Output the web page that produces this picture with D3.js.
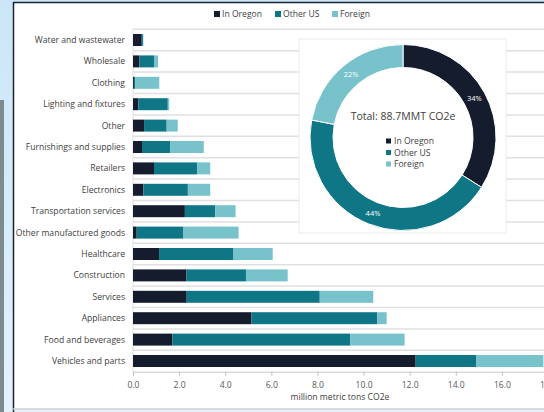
<!DOCTYPE html>
<meta charset="utf-8" />
<script src="https://d3js.org/d3.v7.min.js"></script>
<style>
  body { margin: 0; background: #fff; }
  svg { display: block; font-family: "Open Sans", sans-serif; }
</style>
<div id="my_dataviz"></div>
<script>
  // categories top to bottom
  const categories = [
    "Water and wastewater", "Wholesale", "Clothing", "Lighting and fixtures",
    "Other", "Furnishings and supplies", "Retailers", "Electronics",
    "Transportation services", "Other manufactured goods", "Healthcare",
    "Construction", "Services", "Appliances", "Food and beverages", "Vehicles and parts"
  ];
  const inOregon = [0.38, 0.28, 0.04, 0.23, 0.48, 0.39, 0.91, 0.45, 2.25, 0.16, 1.13, 2.32, 2.33, 5.14, 1.71, 12.26];
  const otherUS  = [0.05, 0.63, 0.05, 1.28, 0.98, 1.22, 1.87, 1.93, 1.32, 2.03, 3.23, 2.58, 5.77, 5.45, 7.72, 2.62];
  const foreign  = [0.02, 0.18, 1.05, 0.06, 0.48, 1.46, 0.57, 0.97, 0.88, 2.39, 1.70, 1.81, 2.32, 0.41, 2.35, 2.92];
  const seriesNames = ["In Oregon", "Other US", "Foreign"];
  const xTicks = [0, 2, 4, 6, 8, 10, 12, 14, 16, 18];
  // donut shares (percent)
  const shareValues = [34, 44, 22];
  const totalLabel = "Total: 88.7MMT CO2e";

  const colors = ["#151c2d", "#0f7686", "#78c2cb"];
  const W = 544, H = 412;

  const svg = d3.select("#my_dataviz").append("svg")
    .attr("width", W).attr("height", H);

  // page background strip on the left
  const grad = svg.append("defs").append("linearGradient")
    .attr("id", "bg").attr("x1", 0).attr("x2", 0).attr("y1", 0).attr("y2", 1);
  grad.append("stop").attr("offset", 0).attr("stop-color", "#cbe6f8");
  grad.append("stop").attr("offset", 1).attr("stop-color", "#e4f2fc");
  svg.append("rect").attr("width", W).attr("height", H).attr("fill", "url(#bg)");
  svg.append("rect").attr("x", 0).attr("y", 100).attr("width", 4).attr("height", H - 100).attr("fill", "#7d8a90");

  // panel
  svg.append("rect").attr("x", 13).attr("y", 2.5).attr("width", W).attr("height", 406)
    .attr("fill", "#fff");
  svg.append("line").attr("x1", 13).attr("x2", W).attr("y1", 2.5).attr("y2", 2.5)
    .attr("stroke", "#1c2333").attr("stroke-width", 1.5);
  svg.append("line").attr("x1", 13.5).attr("x2", 13.5).attr("y1", 2).attr("y2", H)
    .attr("stroke", "#1c2333").attr("stroke-width", 1.5);
  svg.append("line").attr("x1", 13).attr("x2", W).attr("y1", 409).attr("y2", 409)
    .attr("stroke", "#d0d0d0").attr("stroke-width", 1.5);

  // data rows for stacking
  const data = categories.map((c, i) => ({
    cat: c, "In Oregon": inOregon[i], "Other US": otherUS[i], "Foreign": foreign[i]
  }));
  const stacked = d3.stack().keys(seriesNames)(data);

  const x = d3.scaleLinear().domain([0, 18]).range([133, 548]);
  const y = d3.scaleBand().domain(categories).range([29.3, 371.7])
    .paddingInner(0.44).paddingOuter(0.22);
  const step = y.step();

  // horizontal gridlines at category boundaries
  svg.append("g").selectAll("line")
    .data(categories)
    .join("line")
    .attr("x1", x(0)).attr("x2", W)
    .attr("y1", d => y(d) - step * 0.22)
    .attr("y2", d => y(d) - step * 0.22)
    .attr("stroke", "#e0e0e0").attr("stroke-width", 1.5);
  svg.append("line").attr("x1", x(0)).attr("x2", x(0))
    .attr("y1", y.range()[0]).attr("y2", y.range()[1])
    .attr("stroke", "#e0e0e0").attr("stroke-width", 1);

  // bars
  svg.append("g").selectAll("g")
    .data(stacked)
    .join("g")
    .attr("fill", (d, i) => colors[i])
    .selectAll("rect")
    .data(d => d)
    .join("rect")
    .attr("x", d => x(d[0]))
    .attr("y", d => y(d.data.cat))
    .attr("width", d => Math.max(0, x(d[1]) - x(d[0])))
    .attr("height", y.bandwidth());

  // category labels
  svg.append("g").selectAll("text")
    .data(categories)
    .join("text")
    .attr("x", 125)
    .attr("y", d => y(d) + y.bandwidth() / 2)
    .attr("dy", "0.35em")
    .attr("text-anchor", "end")
    .attr("font-size", 8.6)
    .attr("fill", "#404040")
    .text(d => d);

  // x axis
  const xAxis = svg.append("g")
    .attr("transform", `translate(0,${y.range()[1]})`)
    .call(d3.axisBottom(x).tickValues(xTicks).tickFormat(d3.format(".1f")).tickSize(4).tickSizeOuter(0));
  xAxis.select(".domain").attr("stroke", "#d9d9d9").attr("stroke-width", 1.5);
  xAxis.selectAll(".tick line").attr("stroke", "#bfbfbf");
  xAxis.selectAll(".tick text").attr("fill", "#595959").attr("font-size", 8.6)
    .attr("font-family", "Open Sans, sans-serif").attr("dy", "1.1em");

  svg.append("text")
    .attr("x", 340).attr("y", 400)
    .attr("text-anchor", "middle")
    .attr("font-size", 8.6).attr("fill", "#404040")
    .text("million metric tons CO2e");

  // top legend
  const legendX = [214, 275, 332];
  const lg = svg.append("g").selectAll("g")
    .data(seriesNames)
    .join("g")
    .attr("transform", (d, i) => `translate(${legendX[i]},14)`);
  lg.append("rect").attr("x", 0).attr("y", -3).attr("width", 6).attr("height", 6)
    .attr("fill", (d, i) => colors[i]);
  lg.append("text").attr("x", 8).attr("dy", "0.35em")
    .attr("font-size", 8.6).attr("fill", "#404040").text(d => d);

  // donut panel
  svg.append("rect").attr("x", 299).attr("y", 39).attr("width", 207).attr("height", 194)
    .attr("fill", "#fff").attr("stroke", "#ececec").attr("stroke-width", 1);

  const cx = 403, cy = 137.5, rOut = 93, rIn = 70;
  const pie = d3.pie().sort(null).value(d => d)(shareValues);
  const arc = d3.arc().innerRadius(rIn).outerRadius(rOut);
  const donut = svg.append("g").attr("transform", `translate(${cx},${cy})`);
  donut.selectAll("path")
    .data(pie)
    .join("path")
    .attr("d", arc)
    .attr("fill", (d, i) => colors[i])
    .attr("stroke", "#fff").attr("stroke-width", 1);

  const labelArc = d3.arc().innerRadius((rIn + rOut) / 2).outerRadius((rIn + rOut) / 2);
  donut.selectAll("text.pct")
    .data(pie)
    .join("text")
    .attr("class", "pct")
    .attr("transform", d => `translate(${labelArc.centroid(d)})`)
    .attr("text-anchor", "middle").attr("dy", "0.35em")
    .attr("font-size", 7.5).attr("fill", "#fff")
    .text(d => d.data + "%");

  donut.append("text")
    .attr("y", -21).attr("text-anchor", "middle").attr("dy", "0.35em")
    .attr("font-size", 10.5).attr("fill", "#404040")
    .text(totalLabel);

  const il = donut.selectAll("g.il")
    .data(seriesNames)
    .join("g")
    .attr("class", "il")
    .attr("transform", (d, i) => `translate(-17,${3.5 + i * 11.5})`);
  il.append("rect").attr("x", 0).attr("y", -2.5).attr("width", 5).attr("height", 5)
    .attr("fill", (d, i) => colors[i]);
  il.append("text").attr("x", 8).attr("dy", "0.35em")
    .attr("font-size", 8.6).attr("fill", "#404040").text(d => d);
</script>
